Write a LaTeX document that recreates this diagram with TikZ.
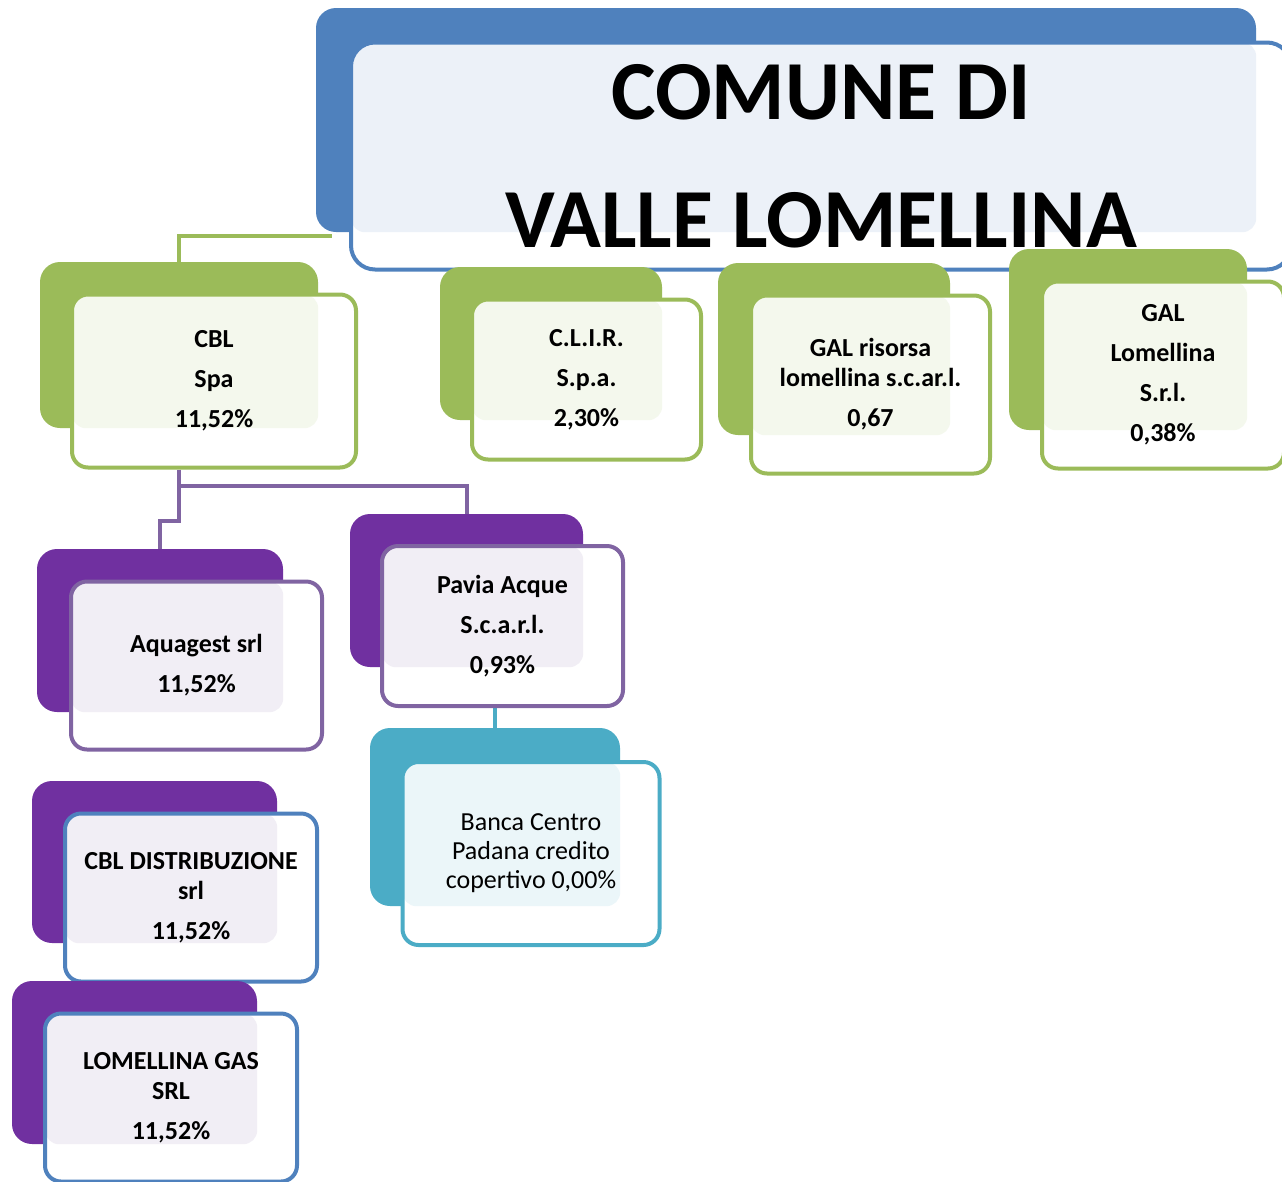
\documentclass[tikz,border=0pt]{standalone}
\usepackage{fontspec}
\setmainfont{Carlito}
\usetikzlibrary{calc}
\pgfdeclarelayer{background}
\pgfsetlayers{background,main}
\definecolor{cblue}{HTML}{4F81BD}
\definecolor{cgreen}{HTML}{9BBB59}
\definecolor{cpurple}{HTML}{7030A0}
\definecolor{clilac}{HTML}{8064A2}
\definecolor{cteal}{HTML}{4BACC6}
\begin{document}
\begin{tikzpicture}[x=1pt, y=-1pt,
	backbox/.style={rectangle, rounded corners=20pt, fill=#1, inner sep=0pt},
	frontbox/.style={rectangle, rounded corners=16pt, draw=#1, line width=4pt, fill=white, align=center, inner sep=0pt, font=\bfseries\fontsize{26}{30}\selectfont},
	tint/.style 2 args={path picture={\fill[#1, rounded corners=14pt] (path picture bounding box.north west) rectangle (#2.south east);}},
	link/.style={line width=4pt, draw=#1}]
	\useasboundingbox (0,0) rectangle (1282,1181);
	
	% comune
	\node[backbox=cblue, minimum width=940pt, minimum height=224pt] (titleback) at (786,120) {};
	\node[frontbox=cblue, rounded corners=24pt, tint={cblue!11}{titleback}, minimum width=940pt, minimum height=227pt, font=\bfseries\fontsize{84}{128}\selectfont] (title) at (821,156) {COMUNE DI\\VALLE LOMELLINA};
	
	% partecipate dirette
	\node[backbox=cgreen, minimum width=278pt, minimum height=166pt] (cblback) at (179,345) {};
	\node[frontbox=cgreen, tint={cgreen!11}{cblback}, minimum width=284pt, minimum height=173pt] (cbl) at (214,381) {CBL\\[10pt]Spa\\[10pt]11,52\%};
	
	\node[backbox=cgreen, minimum width=222pt, minimum height=153pt] (clirback) at (551,343.5) {};
	\node[frontbox=cgreen, tint={cgreen!11}{clirback}, minimum width=229pt, minimum height=160pt] (clir) at (586.5,379.5) {C.L.I.R.\\[10pt]S.p.a.\\[10pt]2,30\%};
	
	\node[backbox=cgreen, minimum width=232pt, minimum height=172pt] (galrback) at (834,349) {};
	\node[frontbox=cgreen, tint={cgreen!11}{galrback}, minimum width=239pt, minimum height=178pt] (galr) at (870.5,384.5) {GAL risorsa\\lomellina s.c.ar.l.\\[10pt]0,67};
	
	\node[backbox=cgreen, minimum width=238pt, minimum height=181pt] (galback) at (1128,339.5) {};
	\node[frontbox=cgreen, tint={cgreen!11}{galback}, minimum width=242pt, minimum height=187pt] (gal) at (1163,375) {GAL\\[10pt]Lomellina\\[10pt]S.r.l.\\[10pt]0,38\%};
	
	% partecipate indirette
	\node[backbox=cpurple, minimum width=246pt, minimum height=163pt] (aquaback) at (160,630.5) {};
	\node[frontbox=clilac, tint={clilac!11}{aquaback}, minimum width=251pt, minimum height=168pt] (aqua) at (196.5,665.5) {Aquagest srl\\[10pt]11,52\%};
	
	\node[backbox=cpurple, minimum width=233pt, minimum height=153pt] (paviaback) at (466.5,590.5) {};
	\node[frontbox=clilac, tint={clilac!11}{paviaback}, minimum width=241pt, minimum height=160pt] (pavia) at (502.5,626) {Pavia Acque\\[10pt]S.c.a.r.l.\\[10pt]0,93\%};
	
	\node[backbox=cteal, minimum width=250pt, minimum height=178pt] (bancaback) at (495,817) {};
	\node[frontbox=cteal, tint={cteal!11}{bancaback}, minimum width=257pt, minimum height=183pt, font=\fontsize{26}{29}\selectfont] (banca) at (531,853.5) {Banca Centro\\Padana credito\\copertivo 0,00\%};
	
	\node[backbox=cpurple, minimum width=245pt, minimum height=162pt] (cbldback) at (154.5,862) {};
	\node[frontbox=cblue, tint={clilac!11}{cbldback}, minimum width=252pt, minimum height=168pt] (cbld) at (191,897.5) {CBL DISTRIBUZIONE\\srl\\[10pt]11,52\%};
	
	\node[backbox=cpurple, minimum width=245pt, minimum height=163pt] (gasback) at (134.5,1062.5) {};
	\node[frontbox=cblue, tint={clilac!11}{gasback}, minimum width=252pt, minimum height=168pt] (gas) at (171,1097.5) {LOMELLINA GAS\\SRL\\[10pt]11,52\%};
	
	% collegamenti
	\coordinate (gend) at (332,236);
	\begin{pgfonlayer}{background}
		\draw[link=cgreen] (cblback.north) |- (gend);
		\draw[link=clilac] (cblback.north |- cbl.south) -- ++(0,16) -| (paviaback.north);
		\draw[link=clilac] (cblback.north |- cbl.south) -- ++(0,51) -| (aquaback.north);
		\draw[link=cteal] (bancaback.north |- pavia.south) -- (bancaback.north);
	\end{pgfonlayer}
	
\end{tikzpicture}
\end{document}
